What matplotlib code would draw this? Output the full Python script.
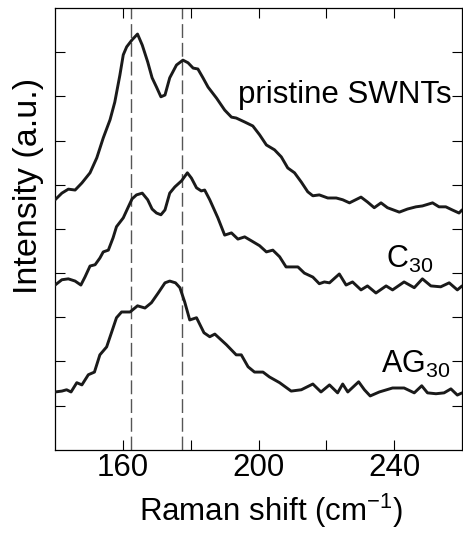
import matplotlib
matplotlib.use('Agg')
import matplotlib.pyplot as plt

plt.rcParams['font.family'] = ['Liberation Sans', 'DejaVu Sans']
plt.rcParams['mathtext.fontset'] = 'custom'
plt.rcParams['mathtext.rm'] = 'Liberation Sans'
plt.rcParams['mathtext.it'] = 'Liberation Sans'

# ── data ────────────────────────────────────────────────────────────────── #
X_PRISTINE = [140.0, 142.0, 143.9, 145.9, 147.9, 150.3, 152.3, 154.2, 156.2, 157.6,
              159.1, 160.1, 161.1, 162.7, 164.3, 165.7, 167.3, 168.6, 169.9, 171.2,
              172.4, 173.8, 175.8, 177.7, 179.2, 180.7, 182.1, 183.6, 185.1, 187.6,
              190.0, 192.0, 193.4, 195.9, 198.3, 200.3, 202.3, 204.7, 206.7, 208.6,
              210.6, 212.6, 214.5, 216.0, 217.9, 220.4, 222.9, 224.8, 226.8, 230.2,
              232.1, 234.1, 236.1, 238.0, 241.5, 243.9, 246.4, 248.3, 251.3, 253.2,
              255.2, 257.1, 259.1, 260.0]
Y_PRISTINE = [5.66, 5.81, 5.90, 5.88, 6.04, 6.27, 6.61, 7.06, 7.47, 7.87,
              8.48, 8.94, 9.12, 9.28, 9.41, 9.16, 8.78, 8.42, 8.21, 7.99,
              8.03, 8.42, 8.71, 8.82, 8.76, 8.64, 8.62, 8.42, 8.21, 7.96,
              7.69, 7.53, 7.51, 7.42, 7.33, 7.13, 6.90, 6.79, 6.63, 6.38,
              6.27, 6.06, 5.84, 5.75, 5.77, 5.70, 5.70, 5.66, 5.59, 5.72,
              5.61, 5.48, 5.59, 5.48, 5.38, 5.45, 5.50, 5.52, 5.59, 5.50,
              5.50, 5.43, 5.36, 5.43]

X_C30 = [140.0, 142.0, 143.9, 145.9, 147.6, 148.8, 150.3, 151.8, 153.2, 154.2,
         155.7, 157.1, 158.1, 160.1, 161.6, 162.7, 164.0, 165.7, 167.3, 168.6,
         169.9, 171.2, 172.4, 173.8, 175.3, 177.3, 179.0, 180.2, 181.7, 183.1,
         184.1, 185.6, 188.0, 190.0, 192.0, 193.9, 195.9, 197.9, 200.3, 202.3,
         204.2, 206.2, 208.1, 209.6, 211.6, 213.5, 216.0, 217.9, 219.4, 220.9,
         223.8, 225.8, 227.7, 230.2, 232.1, 234.6, 237.6, 239.5, 242.9, 245.9,
         248.3, 250.8, 253.7, 256.2, 258.6, 260.0]
Y_C30 = [3.73, 3.85, 3.87, 3.82, 3.73, 3.91, 4.16, 4.19, 4.34, 4.48,
         4.52, 4.80, 5.05, 5.25, 5.50, 5.68, 5.77, 5.81, 5.66, 5.45,
         5.36, 5.32, 5.43, 5.81, 5.95, 6.09, 6.27, 6.15, 5.93, 5.86,
         5.88, 5.66, 5.25, 4.86, 4.91, 4.77, 4.82, 4.73, 4.62, 4.48,
         4.52, 4.37, 4.14, 4.14, 4.14, 4.00, 3.91, 3.76, 3.80, 3.78,
         3.98, 3.73, 3.80, 3.62, 3.71, 3.55, 3.71, 3.62, 3.80, 3.67,
         3.87, 3.71, 3.69, 3.78, 3.62, 3.71]

X_AG30 = [140.0, 142.0, 143.4, 144.7, 146.4, 147.9, 149.8, 151.6, 153.2, 155.2,
          156.7, 158.1, 159.6, 162.1, 164.3, 166.5, 168.4, 170.4, 172.4, 173.8,
          175.5, 176.8, 178.2, 179.7, 181.7, 183.9, 185.6, 187.1, 190.5, 193.4,
          194.9, 196.9, 198.8, 201.3, 203.2, 206.2, 209.6, 212.6, 216.0, 218.4,
          220.9, 223.3, 224.8, 226.3, 229.5, 231.2, 232.9, 235.6, 239.5, 242.9,
          245.9, 248.1, 249.8, 252.3, 254.7, 256.7, 258.6, 260.0]
Y_AG30 = [1.31, 1.33, 1.36, 1.31, 1.52, 1.47, 1.70, 1.76, 2.15, 2.33,
          2.67, 2.99, 3.12, 3.12, 3.26, 3.21, 3.33, 3.55, 3.78, 3.82,
          3.78, 3.67, 3.35, 2.94, 2.99, 2.65, 2.56, 2.62, 2.38, 2.15,
          2.15, 1.88, 1.76, 1.76, 1.65, 1.52, 1.33, 1.36, 1.49, 1.31,
          1.47, 1.29, 1.49, 1.31, 1.54, 1.36, 1.22, 1.31, 1.40, 1.40,
          1.29, 1.45, 1.29, 1.27, 1.29, 1.38, 1.24, 1.29]

DASH_X = [162.4, 177.3]
X_TICKS = [160, 180, 200, 220, 240]
X_TICKLABELS = ['160', '', '200', '', '240']
Y_TICKS = [1, 2, 3, 4, 5, 6, 7, 8, 9]

fig = plt.figure(figsize=(4.63, 5.33), dpi=100)
ax = fig.add_axes([0.119, 0.156, 0.879, 0.829])

for xs, ys in [(X_PRISTINE, Y_PRISTINE), (X_C30, Y_C30), (X_AG30, Y_AG30)]:
    ax.plot(xs, ys, color='#1a1a1a', lw=2.1, solid_joinstyle='round',
            solid_capstyle='round', zorder=3)

for xd in DASH_X:
    ax.axvline(xd, color='#555555', lw=1.0, dashes=(10, 3.5), zorder=2)

ax.text(256.8, 7.86, 'pristine SWNTs', ha='right', va='baseline', fontsize=22.5)
ax.text(237.6, 4.12, r'C$_{\mathregular{30}}$', ha='left', va='baseline', fontsize=22)
ax.text(236.0, 1.74, r'AG$_{\mathregular{30}}$', ha='left', va='baseline', fontsize=22)

ax.set_xlim(140, 260)
ax.set_ylim(0, 10)
ax.set_xticks(X_TICKS)
ax.set_xticklabels(X_TICKLABELS, fontsize=22.5)
ax.set_yticks(Y_TICKS)
ax.set_yticklabels([])
ax.tick_params(direction='in', length=7, width=0.8, top=True, right=True, pad=2)
for s in ax.spines.values():
    s.set_linewidth(0.9)

ax.set_xlabel(r'Raman shift (cm$^{\mathregular{-1}}$)', fontsize=22.5)
ax.xaxis.set_label_coords(0.531, -0.094)
ax.set_ylabel('Intensity (a.u.)', fontsize=24.5)
ax.yaxis.set_label_coords(-0.028, 0.598)

fig.savefig('out.png', dpi=100)
